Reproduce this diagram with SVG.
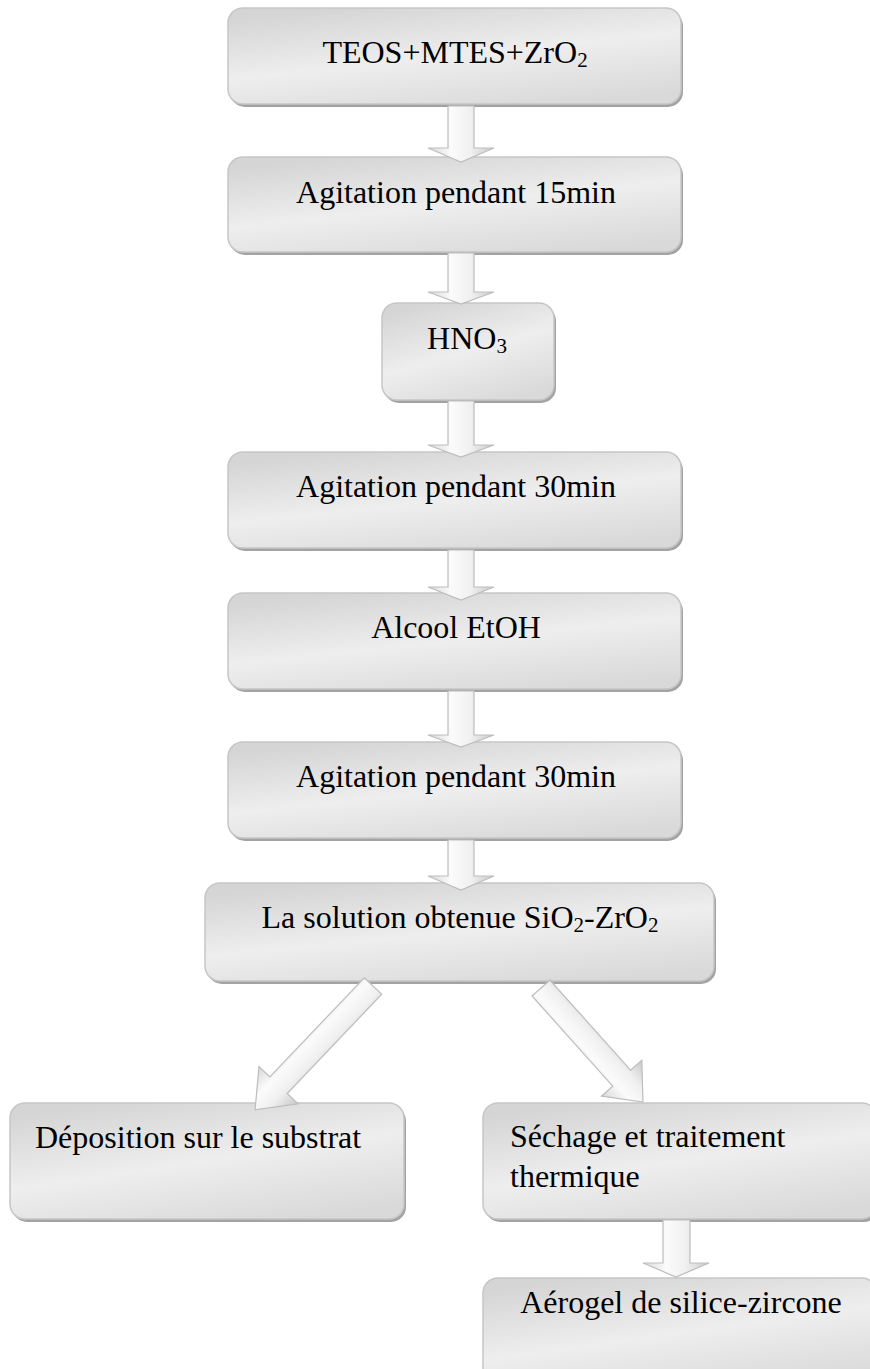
<svg xmlns="http://www.w3.org/2000/svg" width="870" height="1369" viewBox="0 0 870 1369">
<defs>
<linearGradient id="boxg" x1="0.25" y1="0" x2="0.75" y2="1">
<stop offset="0" stop-color="#d5d5d5"/>
<stop offset="0.5" stop-color="#eeeeee"/>
<stop offset="1" stop-color="#d9d9d9"/>
</linearGradient>
<linearGradient id="arrg" x1="0" y1="0" x2="1" y2="0">
<stop offset="0" stop-color="#d8d8d8"/>
<stop offset="0.35" stop-color="#fbfbfb"/>
<stop offset="0.65" stop-color="#f0f0f0"/>
<stop offset="1" stop-color="#c8c8c8"/>
</linearGradient>
</defs>
<style>
.shadow{fill:#a3a3a3}
.box{fill:url(#boxg);stroke:#c6c6c6;stroke-width:1.5}
.arrow{fill:url(#arrg);stroke:#bdbdbd;stroke-width:1.2;stroke-linejoin:miter}
text{font-family:'Liberation Serif','DejaVu Serif',serif;font-size:32px;fill:#000}
.sub{font-size:21px}
</style>

<g id="node1">
<rect class="shadow" x="230" y="11" width="453" height="96" rx="15"/>
<rect class="box" x="228" y="8" width="453" height="96" rx="15"/>
<text font-family="Liberation Serif, serif" x="455" y="63" text-anchor="middle">TEOS+MTES+ZrO<tspan class="sub" dy="4">2</tspan></text>
</g>

<g id="node2">
<rect class="shadow" x="230" y="160" width="453" height="95" rx="15"/>
<rect class="box" x="228" y="157" width="453" height="95" rx="15"/>
<text font-family="Liberation Serif, serif" x="456" y="203" text-anchor="middle">Agitation pendant 15min</text>
</g>

<g id="node3">
<rect class="shadow" x="384" y="306" width="172" height="97" rx="15"/>
<rect class="box" x="382" y="303" width="172" height="97" rx="15"/>
<text font-family="Liberation Serif, serif" x="467" y="349" text-anchor="middle">HNO<tspan class="sub" dy="4">3</tspan></text>
</g>

<g id="node4">
<rect class="shadow" x="230" y="455" width="453" height="96" rx="15"/>
<rect class="box" x="228" y="452" width="453" height="96" rx="15"/>
<text font-family="Liberation Serif, serif" x="456" y="497" text-anchor="middle">Agitation pendant 30min</text>
</g>

<g id="node5">
<rect class="shadow" x="230" y="596" width="453" height="96" rx="15"/>
<rect class="box" x="228" y="593" width="453" height="96" rx="15"/>
<text font-family="Liberation Serif, serif" x="456" y="638" text-anchor="middle">Alcool EtOH</text>
</g>

<g id="node6">
<rect class="shadow" x="230" y="745" width="453" height="96" rx="15"/>
<rect class="box" x="228" y="742" width="453" height="96" rx="15"/>
<text font-family="Liberation Serif, serif" x="456" y="787" text-anchor="middle">Agitation pendant 30min</text>
</g>

<g id="node7">
<rect class="shadow" x="207" y="886" width="509" height="98" rx="15"/>
<rect class="box" x="205" y="883" width="509" height="98" rx="15"/>
<text font-family="Liberation Serif, serif" x="460" y="928" text-anchor="middle">La solution obtenue SiO<tspan class="sub" dy="4">2</tspan><tspan dy="-4">-ZrO</tspan><tspan class="sub" dy="4">2</tspan></text>
</g>

<g id="node8">
<rect class="shadow" x="12" y="1106" width="394" height="116" rx="15"/>
<rect class="box" x="10" y="1103" width="394" height="116" rx="15"/>
<text font-family="Liberation Serif, serif" x="35" y="1148">Déposition sur le substrat</text>
</g>

<g id="node9">
<rect class="shadow" x="485" y="1106" width="394" height="116" rx="15"/>
<rect class="box" x="483" y="1103" width="394" height="116" rx="15"/>
<text font-family="Liberation Serif, serif" x="510" y="1147">Séchage et traitement</text>
<text font-family="Liberation Serif, serif" x="510" y="1187">thermique</text>
</g>

<g id="node10">
<rect class="shadow" x="485" y="1281" width="394" height="110" rx="15"/>
<rect class="box" x="483" y="1278" width="394" height="110" rx="15"/>
<text font-family="Liberation Serif, serif" x="681" y="1313" text-anchor="middle">Aérogel de silice-zircone</text>
</g>

<g id="connectors">
<path class="arrow" d="M448,106 L474,106 L474,148 L494,148 L461,162 L428,148 L448,148 Z"/>
<path class="arrow" d="M448,253 L474,253 L474,292 L494,292 L461,304 L428,292 L448,292 Z"/>
<path class="arrow" d="M448,401 L474,401 L474,445 L494,445 L461,457 L428,445 L448,445 Z"/>
<path class="arrow" d="M448,550 L474,550 L474,587 L494,587 L461,600 L428,587 L448,587 Z"/>
<path class="arrow" d="M448,691 L474,691 L474,735 L494,735 L461,747 L428,735 L448,735 Z"/>
<path class="arrow" d="M448,840 L474,840 L474,876 L494,876 L461,890 L428,876 L448,876 Z"/>
<path class="arrow" d="M663,1220 L690,1220 L690,1263 L709,1263 L676,1277 L643,1263 L663,1263 Z"/>
<g transform="translate(373,986) rotate(43.6)">
<path class="arrow" d="M-12,0 L12,0 L12,137 L27,137 L0,171 L-27,137 L-12,137 Z"/>
</g>
<g transform="translate(541,988) rotate(-41.8)">
<path class="arrow" d="M-12,0 L12,0 L12,121 L27,121 L0,153 L-27,121 L-12,121 Z"/>
</g>
</g>
</svg>
